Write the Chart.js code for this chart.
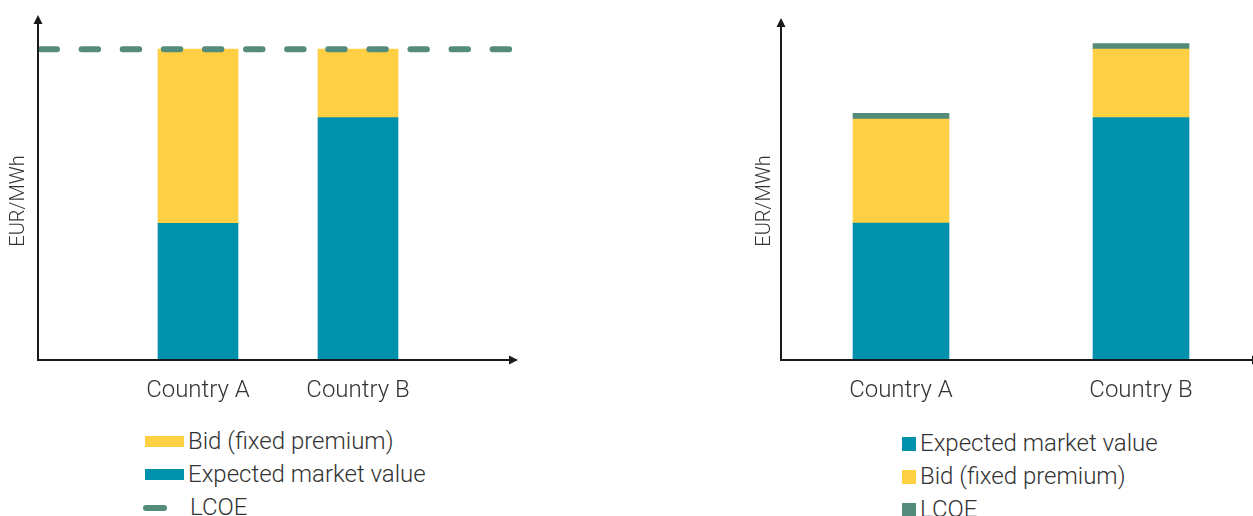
<!DOCTYPE html>
<html>
<head>
<meta charset="utf-8">
<script src="https://cdn.jsdelivr.net/npm/chart.js@4/dist/chart.umd.min.js"></script>
<style>
  html, body { margin: 0; padding: 0; background: #fff; overflow: hidden; width: 1253px; height: 516px; }
  .panel { position: absolute; top: 0; width: 540px; height: 420px; }
  .legend { position: absolute; font-family: Roboto, "Noto Sans", sans-serif; font-weight: 300; font-size: 24px; color: #333; }
  .legend .row { position: relative; height: 33px; line-height: 33px; white-space: nowrap; }
  .legend .sw { position: absolute; }
  .legend .tx { position: absolute; top: 0; }
</style>
</head>
<body>
<div class="panel" style="left:0"><canvas id="left"></canvas></div>
<div class="panel" style="left:740px"><canvas id="right"></canvas></div>
<div class="legend" id="legendLeft" style="left:0; top:425px; width:500px"></div>
<div class="legend" id="legendRight" style="left:740px; top:427px; width:500px"></div>
<script>
// Categories and values (EUR/MWh, schematic units)
const categories = ['Country A', 'Country B'];

// Left panel: market value + fixed premium bid reach the LCOE
const marketValueLeft = [44, 78];
const bidLeft = [56, 22];
const lcoeLeft = 100;

// Right panel: market value + bid, with a thin LCOE band on top
const marketValueRight = [44, 78];
const bidRight = [33.5, 22];
const lcoeBandRight = [1.8, 1.8];

const yTitle = 'EUR/MWh';

const COLORS = {
  market: '#0092AD',
  bid: '#FFCF44',
  lcoe: '#558B7A',
  axis: '#1a1a1a',
  text: '#333333'
};
const FONT = { family: 'Roboto, "Noto Sans", sans-serif', weight: 300, size: 24 };
const TITLE_FONT = { family: FONT.family, weight: 300, size: 20 };

// Axis lines with arrowheads, plus the rotated y-axis title
function axesPlugin(titleX, titleY) {
  return {
    id: 'arrowAxes',
    afterDraw(chart) {
      const { ctx, chartArea: { left, right, top, bottom } } = chart;
      ctx.save();
      ctx.strokeStyle = COLORS.axis;
      ctx.fillStyle = COLORS.axis;
      ctx.lineWidth = 2;
      ctx.beginPath();
      ctx.moveTo(left, bottom);
      ctx.lineTo(left, top + 8);
      ctx.moveTo(left - 1, bottom);
      ctx.lineTo(right - 8, bottom);
      ctx.stroke();
      // y arrowhead
      ctx.beginPath();
      ctx.moveTo(left, top);
      ctx.lineTo(left - 4.5, top + 9);
      ctx.lineTo(left + 4.5, top + 9);
      ctx.closePath();
      ctx.fill();
      // x arrowhead
      ctx.beginPath();
      ctx.moveTo(right, bottom);
      ctx.lineTo(right - 9, bottom - 4.5);
      ctx.lineTo(right - 9, bottom + 4.5);
      ctx.closePath();
      ctx.fill();
      // y title
      ctx.translate(titleX, titleY);
      ctx.rotate(-Math.PI / 2);
      ctx.font = `${TITLE_FONT.weight} ${TITLE_FONT.size}px ${TITLE_FONT.family}`;
      ctx.fillStyle = COLORS.text;
      ctx.textAlign = 'center';
      ctx.textBaseline = 'middle';
      ctx.fillText(yTitle, 0, 0);
      ctx.restore();
    }
  };
}

function baseScales(yMax, yWidth) {
  return {
    x: {
      stacked: true,
      grid: { display: false, drawTicks: false },
      border: { display: false },
      ticks: { color: COLORS.text, font: FONT, padding: 17, autoSkip: false, maxRotation: 0 },
      afterFit(scale) { scale.height = 60; }
    },
    y: {
      stacked: true,
      min: 0,
      max: yMax,
      grid: { display: false, drawTicks: false },
      border: { display: false },
      ticks: { display: false },
      afterFit(scale) { scale.width = yWidth; }
    }
  };
}

// Left chart: empty slots at both ends so the axis runs past the bars
const leftLabels = ['', ...categories, ''];
const pad = arr => [null, ...arr, null];

const leftChart = new Chart(document.getElementById('left'), {
  type: 'bar',
  data: {
    labels: leftLabels,
    datasets: [
      {
        type: 'line',
        label: 'LCOE',
        data: leftLabels.map(() => lcoeLeft),
        borderColor: COLORS.lcoe,
        borderWidth: 6,
        borderDash: [16.5, 24.6],
        borderDashOffset: -2.5,
        borderCapStyle: 'round',
        pointRadius: 0,
        stack: 'lcoe',
        order: 0
      },
      {
        label: 'Expected market value',
        data: pad(marketValueLeft),
        backgroundColor: COLORS.market,
        barThickness: 80,
        order: 1
      },
      {
        label: 'Bid (fixed premium)',
        data: pad(bidLeft),
        backgroundColor: COLORS.bid,
        barThickness: 80,
        order: 1
      }
    ]
  },
  options: {
    responsive: true,
    maintainAspectRatio: false,
    animation: false,
    layout: { padding: { top: 15, right: 22, left: 0, bottom: 0 } },
    plugins: { legend: { display: false }, tooltip: { enabled: false } },
    scales: baseScales(111, 38),
    events: []
  },
  plugins: [axesPlugin(19, 201)]
});
leftChart.options.scales.x.offset = false;
leftChart.update();

const rightChart = new Chart(document.getElementById('right'), {
  type: 'bar',
  data: {
    labels: categories,
    datasets: [
      { label: 'Expected market value', data: marketValueRight, backgroundColor: COLORS.market, barThickness: 96 },
      { label: 'Bid (fixed premium)', data: bidRight, backgroundColor: COLORS.bid, barThickness: 96 },
      { label: 'LCOE', data: lcoeBandRight, backgroundColor: COLORS.lcoe, barThickness: 96 }
    ]
  },
  options: {
    responsive: true,
    maintainAspectRatio: false,
    animation: false,
    layout: { padding: { top: 18, right: 19, left: 0, bottom: 0 } },
    plugins: { legend: { display: false }, tooltip: { enabled: false } },
    scales: baseScales(110, 41),
    events: []
  },
  plugins: [axesPlugin(25, 201)]
});

// HTML legends built from the chart datasets
function buildLegend(el, chart, order, style) {
  order.forEach(label => {
    const ds = chart.data.datasets.find(d => d.label === label);
    const row = document.createElement('div');
    row.className = 'row';
    const sw = document.createElement('span');
    sw.className = 'sw';
    const tx = document.createElement('span');
    tx.className = 'tx';
    tx.textContent = label;
    if (style === 'wide') {
      if (ds.type === 'line') {
        Object.assign(sw.style, { left: '143px', top: '14px', width: '24px', height: '6px', borderRadius: '3px', background: ds.borderColor });
        tx.style.left = '190px';
      } else {
        Object.assign(sw.style, { left: '145px', top: '11px', width: '39px', height: '11px', background: ds.backgroundColor });
        tx.style.left = '188px';
      }
    } else {
      Object.assign(sw.style, { left: '162px', top: '10px', width: '14px', height: '14px', background: ds.backgroundColor });
      tx.style.left = '180px';
    }
    row.appendChild(sw);
    row.appendChild(tx);
    el.appendChild(row);
  });
}
buildLegend(document.getElementById('legendLeft'), leftChart,
  ['Bid (fixed premium)', 'Expected market value', 'LCOE'], 'wide');
buildLegend(document.getElementById('legendRight'), rightChart,
  ['Expected market value', 'Bid (fixed premium)', 'LCOE'], 'square');
</script>
</body>
</html>
